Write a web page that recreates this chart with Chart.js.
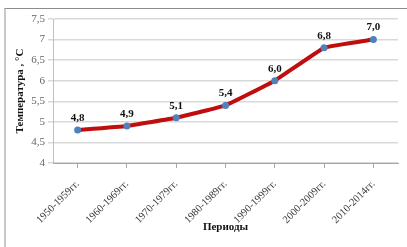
<!DOCTYPE html>
<html lang="ru">
<head>
<meta charset="utf-8">
<title>Температура по периодам</title>
<script src="https://cdn.jsdelivr.net/npm/chart.js@4/dist/chart.umd.min.js"></script>
<style>
  html, body { margin: 0; padding: 0; background: #fff; }
  .wrap { position: relative; width: 407px; height: 247px; }
  .frame {
    position: absolute; left: 4px; top: 8px; right: 0; bottom: 0;
    border-left: 2px solid #c8c8c8; border-top: 1px solid #8c8c8c;
  }
  canvas { position: absolute; left: 0; top: 0; }
</style>
</head>
<body>
<div class="wrap">
  <div class="frame"></div>
  <canvas id="tempChart" width="407" height="247"></canvas>
</div>
<script>
/* ── Data ───────────────────────────────────────── */
const periods = ['1950-1959гг.', '1960-1969гг.', '1970-1979гг.', '1980-1989гг.',
                 '1990-1999гг.', '2000-2009гг.', '2010-2014гг.'];
const temps   = [4.8, 4.9, 5.1, 5.4, 6.0, 6.8, 7.0];

const serif = '"Liberation Serif", "Times New Roman", serif';
const fmt = v => String(v).replace('.', ',');

/* ── Value labels above points ─────────────────── */
const pointLabels = {
  id: 'pointLabels',
  afterDatasetsDraw(chart) {
    const ctx = chart.ctx;
    const meta = chart.getDatasetMeta(0);
    ctx.save();
    ctx.font = 'bold 11px ' + serif;
    ctx.fillStyle = '#111';
    ctx.textAlign = 'center';
    ctx.textBaseline = 'middle';
    meta.data.forEach((pt, i) => {
      ctx.fillText(temps[i].toFixed(1).replace('.', ','), pt.x, pt.y - 12);
    });
    ctx.restore();
  }
};

const ctx = document.getElementById('tempChart').getContext('2d');
new Chart(ctx, {
  type: 'line',
  data: {
    labels: periods,
    datasets: [{
      data: temps,
      borderColor: '#c00d0d',
      borderWidth: 4,
      tension: 0.08,
      pointRadius: 3.5,
      pointBackgroundColor: '#4f81bd',
      pointBorderWidth: 0,
      fill: false
    }]
  },
  options: {
    responsive: false,
    animation: false,
    layout: { padding: { top: 19, right: 9, left: 0, bottom: 0 } },
    plugins: { legend: { display: false }, tooltip: { enabled: false } },
    scales: {
      x: {
        offset: true,
        afterFit: s => { s.height = 84; },
        grid: { drawOnChartArea: false, tickLength: 5, color: '#a6a6a6' },
        border: { color: '#a6a6a6', width: 1 },
        ticks: {
          minRotation: 45, maxRotation: 45, autoSkip: false,
          color: '#333', padding: 10,
          font: { family: serif, size: 10.5 }
        },
        title: {
          display: true, text: 'Периоды', color: '#111',
          font: { family: serif, size: 11, weight: 'bold' },
          padding: { top: 0, bottom: 13 }
        }
      },
      y: {
        min: 4, max: 7.5,
        afterFit: s => { s.width = 53; },
        grid: { color: '#d9d9d9', lineWidth: 1.5, tickLength: 5 },
        border: { color: '#bfbfbf', width: 1 },
        ticks: {
          stepSize: 0.5, color: '#666', padding: 3,
          font: { family: serif, size: 11 },
          callback: v => fmt(v)
        },
        title: {
          display: true, text: 'Температура , °С', color: '#111',
          font: { family: serif, size: 11, weight: 'bold' },
          padding: { top: 14, bottom: 0 }
        }
      }
    }
  },
  plugins: [pointLabels]
});
</script>
</body>
</html>
